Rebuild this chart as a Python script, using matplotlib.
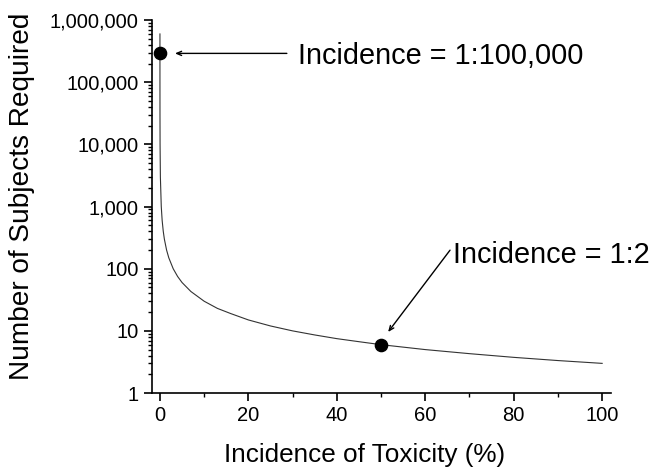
import numpy as np
import matplotlib.pyplot as plt
from matplotlib.ticker import FixedLocator, LogLocator, NullFormatter

plt.rcParams['font.family'] = ['Liberation Sans', 'DejaVu Sans']

# curve: incidence (%) vs subjects required
incidence = [0.0005, 0.001, 0.003, 0.01, 0.03, 0.1, 0.3, 0.5, 0.75, 1, 1.5, 2, 3, 4,
             5, 7, 10, 13, 16, 20, 25, 30, 35, 40, 45, 50, 60, 70, 80, 90, 100]
subjects = [600000, 300000, 100000, 30000, 10000, 3000, 1000, 600, 400, 300, 200, 150,
            100, 75, 60, 43, 30, 23, 19, 15, 12, 10, 8.6, 7.5, 6.7, 6, 5, 4.3, 3.75,
            3.33, 3]

# highlighted points
mark_x = [0.001, 50]
mark_y = [300000, 6]
mark_labels = ['Incidence = 1:100,000', 'Incidence = 1:2']

y_ticks = [1, 10, 100, 1000, 10000, 100000, 1000000]
y_labels = ['1', '10', '100', '1,000', '10,000', '100,000', '1,000,000']
x_ticks = [0, 20, 40, 60, 80, 100]

fig = plt.figure(figsize=(6.52, 4.69), dpi=100)
ax = fig.add_axes([0.2331, 0.162, 0.704, 0.795])

ax.plot(incidence, subjects, color='#333333', linewidth=0.8)
ax.plot(mark_x, mark_y, 'o', color='black', markersize=8.8)

ax.set_yscale('log')
ax.set_ylim(1, 1000000)
ax.set_xlim(-1.8, 102)

ax.set_yticks(y_ticks)
ax.set_yticklabels(y_labels)
ax.yaxis.set_minor_locator(LogLocator(base=10, subs=np.arange(2, 10)))
ax.yaxis.set_minor_formatter(NullFormatter())
ax.set_xticks(x_ticks)
ax.xaxis.set_minor_locator(FixedLocator([10, 30, 50, 70, 90]))

ax.spines['top'].set_visible(False)
ax.spines['right'].set_visible(False)
for s in ['left', 'bottom']:
    ax.spines[s].set_linewidth(1.2)

ax.tick_params(which='major', direction='out', length=6, width=1.2, labelsize=14.5)
ax.tick_params(which='minor', direction='out', length=3, width=1.0)

ax.set_xlabel('Incidence of Toxicity (%)', fontsize=18.8)
ax.xaxis.set_label_coords(0.464, -0.133)
ax.set_ylabel('Number of Subjects Required', fontsize=20.2)
ax.yaxis.set_label_coords(-0.255, 0.527)

arrow = dict(arrowstyle='->,head_length=0.35,head_width=0.15', color='black', lw=1.0,
             shrinkA=0, shrinkB=0)

# 1:100,000 label with horizontal arrow
ax.annotate('', xy=(3.4, 292000), xytext=(28.7, 292000), arrowprops=arrow)
ax.text(31.2, 270000, mark_labels[0], fontsize=20.8, va='center', ha='left')

# 1:2 label with diagonal arrow
ax.annotate('', xy=(51.6, 9.6), xytext=(65.6, 199), arrowprops=arrow)
ax.text(66.3, 166, mark_labels[1], fontsize=20.8, va='center', ha='left')

fig.savefig('out.png', dpi=100)
